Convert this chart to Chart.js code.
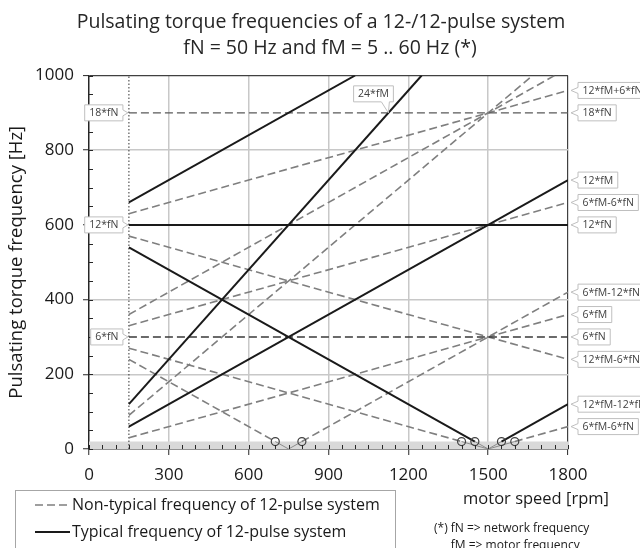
<!DOCTYPE html>
<html>
<head>
<meta charset="utf-8">
<script src="https://cdn.jsdelivr.net/npm/chart.js@4.4.1/dist/chart.umd.min.js"></script>
<style>
  html, body { margin: 0; padding: 0; background: #fff; }
</style>
</head>
<body>
<canvas id="torqueChart" width="640" height="548"></canvas>
<script>
// ================== Data ==================
// motor speed in rpm (fM = speed / 30), frequencies in Hz
const xTicks = [0, 300, 600, 900, 1200, 1500, 1800];
const yTicks = [0, 200, 400, 600, 800, 1000];
const fullSpeed = [150, 1800];

// typical frequencies of 12-pulse system (solid)
const f12MSpeed = [150, 1800];
const f12M = [60, 720];
const f24MSpeed = [150, 1250];
const f24M = [120, 1000];
const f12Mp12NSpeed = [150, 1000];
const f12Mp12N = [660, 1000];
const f12N = [600, 600];
const f12Mm12NSpeed = [150, 1450, 1500, 1550, 1800];
const f12Mm12N = [540, 20, 0, 20, 120];

// non-typical frequencies (dashed)
const f6N = [300, 300];
const f18N = [900, 900];
const f6M = [30, 360];
const f18MSpeed = [150, 1667];
const f18M = [90, 1000];
const f6Mp6N = [330, 660];
const f6Mm6NSpeed = [150, 1400, 1500, 1600, 1800];
const f6Mm6N = [270, 20, 0, 20, 60];
const f12Mp6NSpeed = [150, 1750];
const f12Mp6N = [360, 1000];
const f12Mm6NSpeed = [150, 700, 750, 800, 1800];
const f12Mm6N = [240, 20, 0, 20, 420];
const f6Mp12N = [630, 960];
const f6Mm12N = [570, 240];

// low frequency band and start of speed range
const bandSpeed = [0, 1800];
const bandLimit = [20, 20];
const startSpeed = [150, 150];
const startLine = [0, 1000];

// callout labels
const rightLabels = ["12*fM+6*fN", "18*fN", "12*fM", "6*fM-6*fN", "12*fN", "6*fM-12*fN",
  "6*fM", "6*fN", "12*fM-6*fN", "12*fM-12*fN", "6*fM-6*fN"];
const rightLabelValues = [960, 900, 720, 660, 600, 420, 360, 300, 240, 120, 60];
const leftLabels = ["18*fN", "12*fN", "6*fN"];
const leftLabelValues = [900, 600, 300];
const topLabel = "24*fM";
const topLabelPoint = [1125, 900];

const FONT = "'Open Sans', 'Liberation Sans', sans-serif";

// ================== Helpers ==================
const pts = (xs, ys) => xs.map((x, i) => ({ x, y: ys[i] }));
const inBand = (c) => c.p0.parsed.y <= 20 && c.p1.parsed.y <= 20;

const line = (label, xs, ys, typical) => ({
  label,
  data: pts(xs, ys),
  borderColor: typical ? "#1a1a1a" : "#7f7f7f",
  borderWidth: typical ? 2 : 1.6,
  borderDash: typical ? [] : [8, 4],
  tension: 0,
  fill: false,
  pointRadius: (c) => (c.raw && c.raw.y === 20 ? 4 : 0),
  pointBorderColor: "#404040",
  pointBackgroundColor: "rgba(0,0,0,0)",
  pointBorderWidth: 1.2,
  pointHoverRadius: 0,
  segment: {
    borderColor: (c) => (inBand(c) ? "#8c8c8c" : undefined),
    borderWidth: (c) => (inBand(c) ? 1 : undefined),
    borderDash: (c) => (inBand(c) ? [] : undefined),
  },
});

const datasets = [
  line("12*fM", f12MSpeed, f12M, true),
  line("24*fM", f24MSpeed, f24M, true),
  line("12*fM+12*fN", f12Mp12NSpeed, f12Mp12N, true),
  line("12*fN", fullSpeed, f12N, true),
  line("12*fM-12*fN", f12Mm12NSpeed, f12Mm12N, true),
  Object.assign(line("6*fN", fullSpeed, f6N, false), { borderColor: "#3a3a3a", borderWidth: 1.4 }),
  Object.assign(line("18*fN", fullSpeed, f18N, false), { borderColor: "#595959", borderWidth: 1.4 }),
  line("6*fM", fullSpeed, f6M, false),
  line("18*fM", f18MSpeed, f18M, false),
  line("6*fM+6*fN", fullSpeed, f6Mp6N, false),
  line("6*fM-6*fN", f6Mm6NSpeed, f6Mm6N, false),
  line("12*fM+6*fN", f12Mp6NSpeed, f12Mp6N, false),
  line("12*fM-6*fN", f12Mm6NSpeed, f12Mm6N, false),
  line("6*fM+12*fN", fullSpeed, f6Mp12N, false),
  line("6*fM-12*fN", fullSpeed, f6Mm12N, false),
  {
    label: "start",
    data: pts(startSpeed, startLine),
    borderColor: "#333",
    borderWidth: 1,
    borderDash: [1.5, 2],
    pointRadius: 0,
    fill: false,
  },
  {
    label: "band",
    data: pts(bandSpeed, bandLimit),
    borderWidth: 0,
    borderColor: "rgba(0,0,0,0)",
    backgroundColor: "#d9d9d9",
    pointRadius: 0,
    fill: "origin",
  },
];

// ================== Decorations ==================
function callout(ctx, text, tipX, tipY, side) {
  ctx.font = "10.5px " + FONT;
  const w = ctx.measureText(text).width + 9;
  const h = 16;
  let left, top;
  if (side === "right") { left = tipX + 7; top = tipY - h / 2; }
  else if (side === "left") { left = tipX - 5 - w; top = tipY - h / 2; }
  else { left = tipX + 5 - w; top = tipY - 11 - h; }
  const right = left + w, bottom = top + h;
  ctx.beginPath();
  ctx.moveTo(left, top);
  if (side === "top") {
    ctx.lineTo(right, top);
    ctx.lineTo(right, bottom);
    ctx.lineTo(right - 4, bottom);
    ctx.lineTo(tipX, tipY);
    ctx.lineTo(right - 12, bottom);
    ctx.lineTo(left, bottom);
  } else if (side === "right") {
    ctx.lineTo(right, top);
    ctx.lineTo(right, bottom);
    ctx.lineTo(left, bottom);
    ctx.lineTo(left, tipY + 3);
    ctx.lineTo(tipX, tipY);
    ctx.lineTo(left, tipY - 3);
  } else {
    ctx.lineTo(right, top);
    ctx.lineTo(right, tipY - 3);
    ctx.lineTo(tipX, tipY);
    ctx.lineTo(right, tipY + 3);
    ctx.lineTo(right, bottom);
    ctx.lineTo(left, bottom);
  }
  ctx.closePath();
  ctx.fillStyle = "#fff";
  ctx.fill();
  ctx.strokeStyle = "#bfbfbf";
  ctx.lineWidth = 1;
  ctx.stroke();
  ctx.fillStyle = "#404040";
  ctx.textAlign = "left";
  ctx.textBaseline = "middle";
  ctx.fillText(text, left + 4.5, top + h / 2 + 0.5);
}

const decor = {
  id: "decor",
  afterDraw(chart) {
    const { ctx, chartArea: a, scales: { x, y } } = chart;
    ctx.save();

    // minor ticks pointing inside
    ctx.strokeStyle = "#262626";
    ctx.lineWidth = 1;
    x.ticks.forEach((t) => {
      const px = Math.round(x.getPixelForValue(t.value)) + 0.5;
      ctx.beginPath();
      ctx.moveTo(px, a.bottom);
      ctx.lineTo(px, a.bottom - 4);
      ctx.stroke();
    });
    y.ticks.forEach((t) => {
      const py = Math.round(y.getPixelForValue(t.value)) + 0.5;
      ctx.beginPath();
      ctx.moveTo(a.left, py);
      ctx.lineTo(a.left + 4, py);
      ctx.stroke();
    });

    // title
    ctx.fillStyle = "#262626";
    ctx.textAlign = "center";
    ctx.textBaseline = "middle";
    ctx.font = "19.5px " + FONT;
    ctx.fillText("Pulsating torque frequencies of a 12-/12-pulse system", 321, 22);
    ctx.fillText("fN = 50 Hz and fM = 5 .. 60 Hz (*)", 330, 48);

    // callouts
    rightLabels.forEach((t, i) => callout(ctx, t, a.right + 3, y.getPixelForValue(rightLabelValues[i]), "right"));
    leftLabels.forEach((t, i) => callout(ctx, t, x.getPixelForValue(fullSpeed[0]) - 1, y.getPixelForValue(leftLabelValues[i]), "left"));
    callout(ctx, topLabel, x.getPixelForValue(topLabelPoint[0]), y.getPixelForValue(topLabelPoint[1]), "top");

    // x axis title
    ctx.fillStyle = "#1a1a1a";
    ctx.font = "16.5px " + FONT;
    ctx.textAlign = "center";
    ctx.fillText("motor speed [rpm]", 536, 499);

    // legend
    ctx.strokeStyle = "#a6a6a6";
    ctx.lineWidth = 1;
    ctx.strokeRect(15.5, 490.5, 380, 80);
    ctx.strokeStyle = "#7f7f7f";
    ctx.lineWidth = 1.5;
    ctx.setLineDash([8, 4]);
    ctx.beginPath();
    ctx.moveTo(35, 505);
    ctx.lineTo(70, 505);
    ctx.stroke();
    ctx.setLineDash([]);
    ctx.strokeStyle = "#1a1a1a";
    ctx.lineWidth = 2;
    ctx.beginPath();
    ctx.moveTo(35, 532);
    ctx.lineTo(70, 532);
    ctx.stroke();
    ctx.textAlign = "left";
    ctx.font = "16px " + FONT;
    ctx.fillText("Non-typical frequency of 12-pulse system", 72, 505);
    ctx.fillText("Typical frequency of 12-pulse system", 72, 532);

    // footnote
    ctx.font = "12px " + FONT;
    ctx.fillText("(*) fN => network frequency", 434, 529);
    ctx.fillText("fM => motor frequency", 434 + ctx.measureText("(*) ").width, 546);

    ctx.restore();
  },
};

// ================== Chart ==================
const tickFont = { family: FONT, size: 17 };
const isTick = (list, v) => list.includes(Math.round(v));

new Chart(document.getElementById("torqueChart"), {
  type: "line",
  data: { datasets },
  options: {
    responsive: false,
    animation: false,
    events: [],
    layout: { padding: { top: 75.5, right: 72, left: 0, bottom: 0 } },
    plugins: { legend: { display: false }, tooltip: { enabled: false } },
    scales: {
      x: {
        type: "linear",
        min: 0,
        max: 1800,
        afterFit: (s) => { s.height = 99; },
        ticks: {
          stepSize: 50,
          autoSkip: false,
          maxRotation: 0,
          padding: 10,
          color: "#1a1a1a",
          font: tickFont,
          callback: (v) => (isTick(xTicks, v) ? v : ""),
        },
        grid: {
          color: (c) => {
            const v = c.tick ? Math.round(c.tick.value) : -1;
            if (v === 1800) return "#404040";
            return v > 0 && v % 300 === 0 ? "#c8c8c8" : "rgba(0,0,0,0)";
          },
          lineWidth: (c) => (c.tick && Math.round(c.tick.value) === 1800 ? 1.2 : 1.5),
          tickColor: (c) => (c.tick && isTick(xTicks, c.tick.value) ? "#262626" : "rgba(0,0,0,0)"),
          tickLength: 6,
          tickWidth: 1,
        },
        border: { display: true, color: "#262626", width: 1.5 },
      },
      y: {
        min: 0,
        max: 1000,
        afterFit: (s) => { s.width = 89; },
        ticks: {
          stepSize: 50,
          autoSkip: false,
          padding: 9,
          color: "#1a1a1a",
          font: tickFont,
          callback: (v) => (isTick(yTicks, v) ? v : ""),
        },
        grid: {
          color: (c) => {
            const v = c.tick ? Math.round(c.tick.value) : -1;
            if (v === 1000) return "#404040";
            return v > 0 && v % 200 === 0 ? "#c8c8c8" : "rgba(0,0,0,0)";
          },
          lineWidth: (c) => (c.tick && Math.round(c.tick.value) === 1000 ? 1.2 : 1.5),
          tickColor: (c) => (c.tick && isTick(yTicks, c.tick.value) ? "#262626" : "rgba(0,0,0,0)"),
          tickLength: 6,
          tickWidth: 1,
        },
        border: { display: true, color: "#262626", width: 1.5 },
        title: {
          display: true,
          text: "Pulsating torque frequency [Hz]",
          color: "#1a1a1a",
          font: { family: FONT, size: 18.5 },
          padding: { top: 6, bottom: 0 },
        },
      },
    },
  },
  plugins: [decor],
});
</script>
</body>
</html>
